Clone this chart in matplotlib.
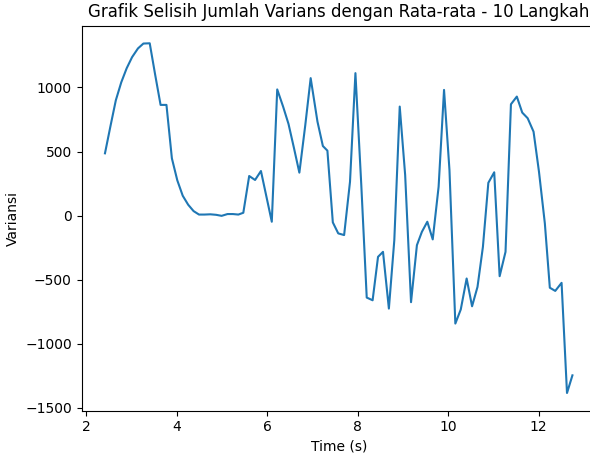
import numpy as np
import matplotlib
matplotlib.use("Agg")
import matplotlib.pyplot as plt

# waktu (detik) dan selisih varians
time_s = [2.41, 2.53, 2.65, 2.77, 2.89, 3.01, 3.14, 3.26, 3.40, 3.52,
          3.64, 3.77, 3.89, 4.01, 4.13, 4.25, 4.37, 4.49, 4.61, 4.74,
          4.87, 4.99, 5.12, 5.24, 5.36, 5.47, 5.60, 5.73, 5.86, 5.98,
          6.10, 6.22, 6.35, 6.47, 6.59, 6.71, 6.84, 6.96, 7.11, 7.23,
          7.33, 7.45, 7.57, 7.70, 7.83, 7.95, 8.08, 8.20, 8.33, 8.45,
          8.56, 8.69, 8.81, 8.93, 9.05, 9.18, 9.31, 9.42, 9.54, 9.66,
          9.79, 9.91, 10.03, 10.16, 10.28, 10.41, 10.53, 10.65, 10.77, 10.89,
          11.02, 11.14, 11.27, 11.39, 11.52, 11.64, 11.76, 11.89, 12.01, 12.14,
          12.25, 12.37, 12.51, 12.63, 12.75]

variansi = [486, 696, 900, 1040, 1150, 1237, 1305, 1343, 1345, 1100,
            864, 864, 447, 275, 155, 85, 35, 8, 8, 10,
            6, -2, 12, 12, 8, 22, 309, 278, 348, 150,
            -48, 985, 851, 715, 528, 335, 704, 1073, 734, 543,
            507, -53, -139, -152, 264, 1112, 236, -640, -661, -322,
            -283, -726, -192, 851, 317, -676, -231, -127, -48, -186,
            225, 981, 356, -843, -733, -491, -708, -557, -244, 256,
            338, -473, -283, 869, 929, 804, 760, 655, 343, -61,
            -563, -588, -525, -1385, -1247]

fig = plt.figure(figsize=(5.9, 4.55), dpi=100)
# sumbu sedikit melewati tepi kanan gambar (seperti aslinya yang terpotong)
ax = fig.add_axes([81.6 / 590, 1 - 410.5 / 455, 514.2 / 590, 384.7 / 455])

ax.plot(np.array(time_s), np.array(variansi), color="#1f77b4", linewidth=1.5)

ax.set_title("Grafik Selisih Jumlah Varians dengan Rata-rata - 10 Langkah", fontsize=12)
ax.set_xlabel("Time (s)")
ax.set_ylabel("Variansi")
ax.set_xticks([2, 4, 6, 8, 10, 12])
ax.set_yticks([-1500, -1000, -500, 0, 500, 1000])

fig.savefig("out.png", dpi=100)
